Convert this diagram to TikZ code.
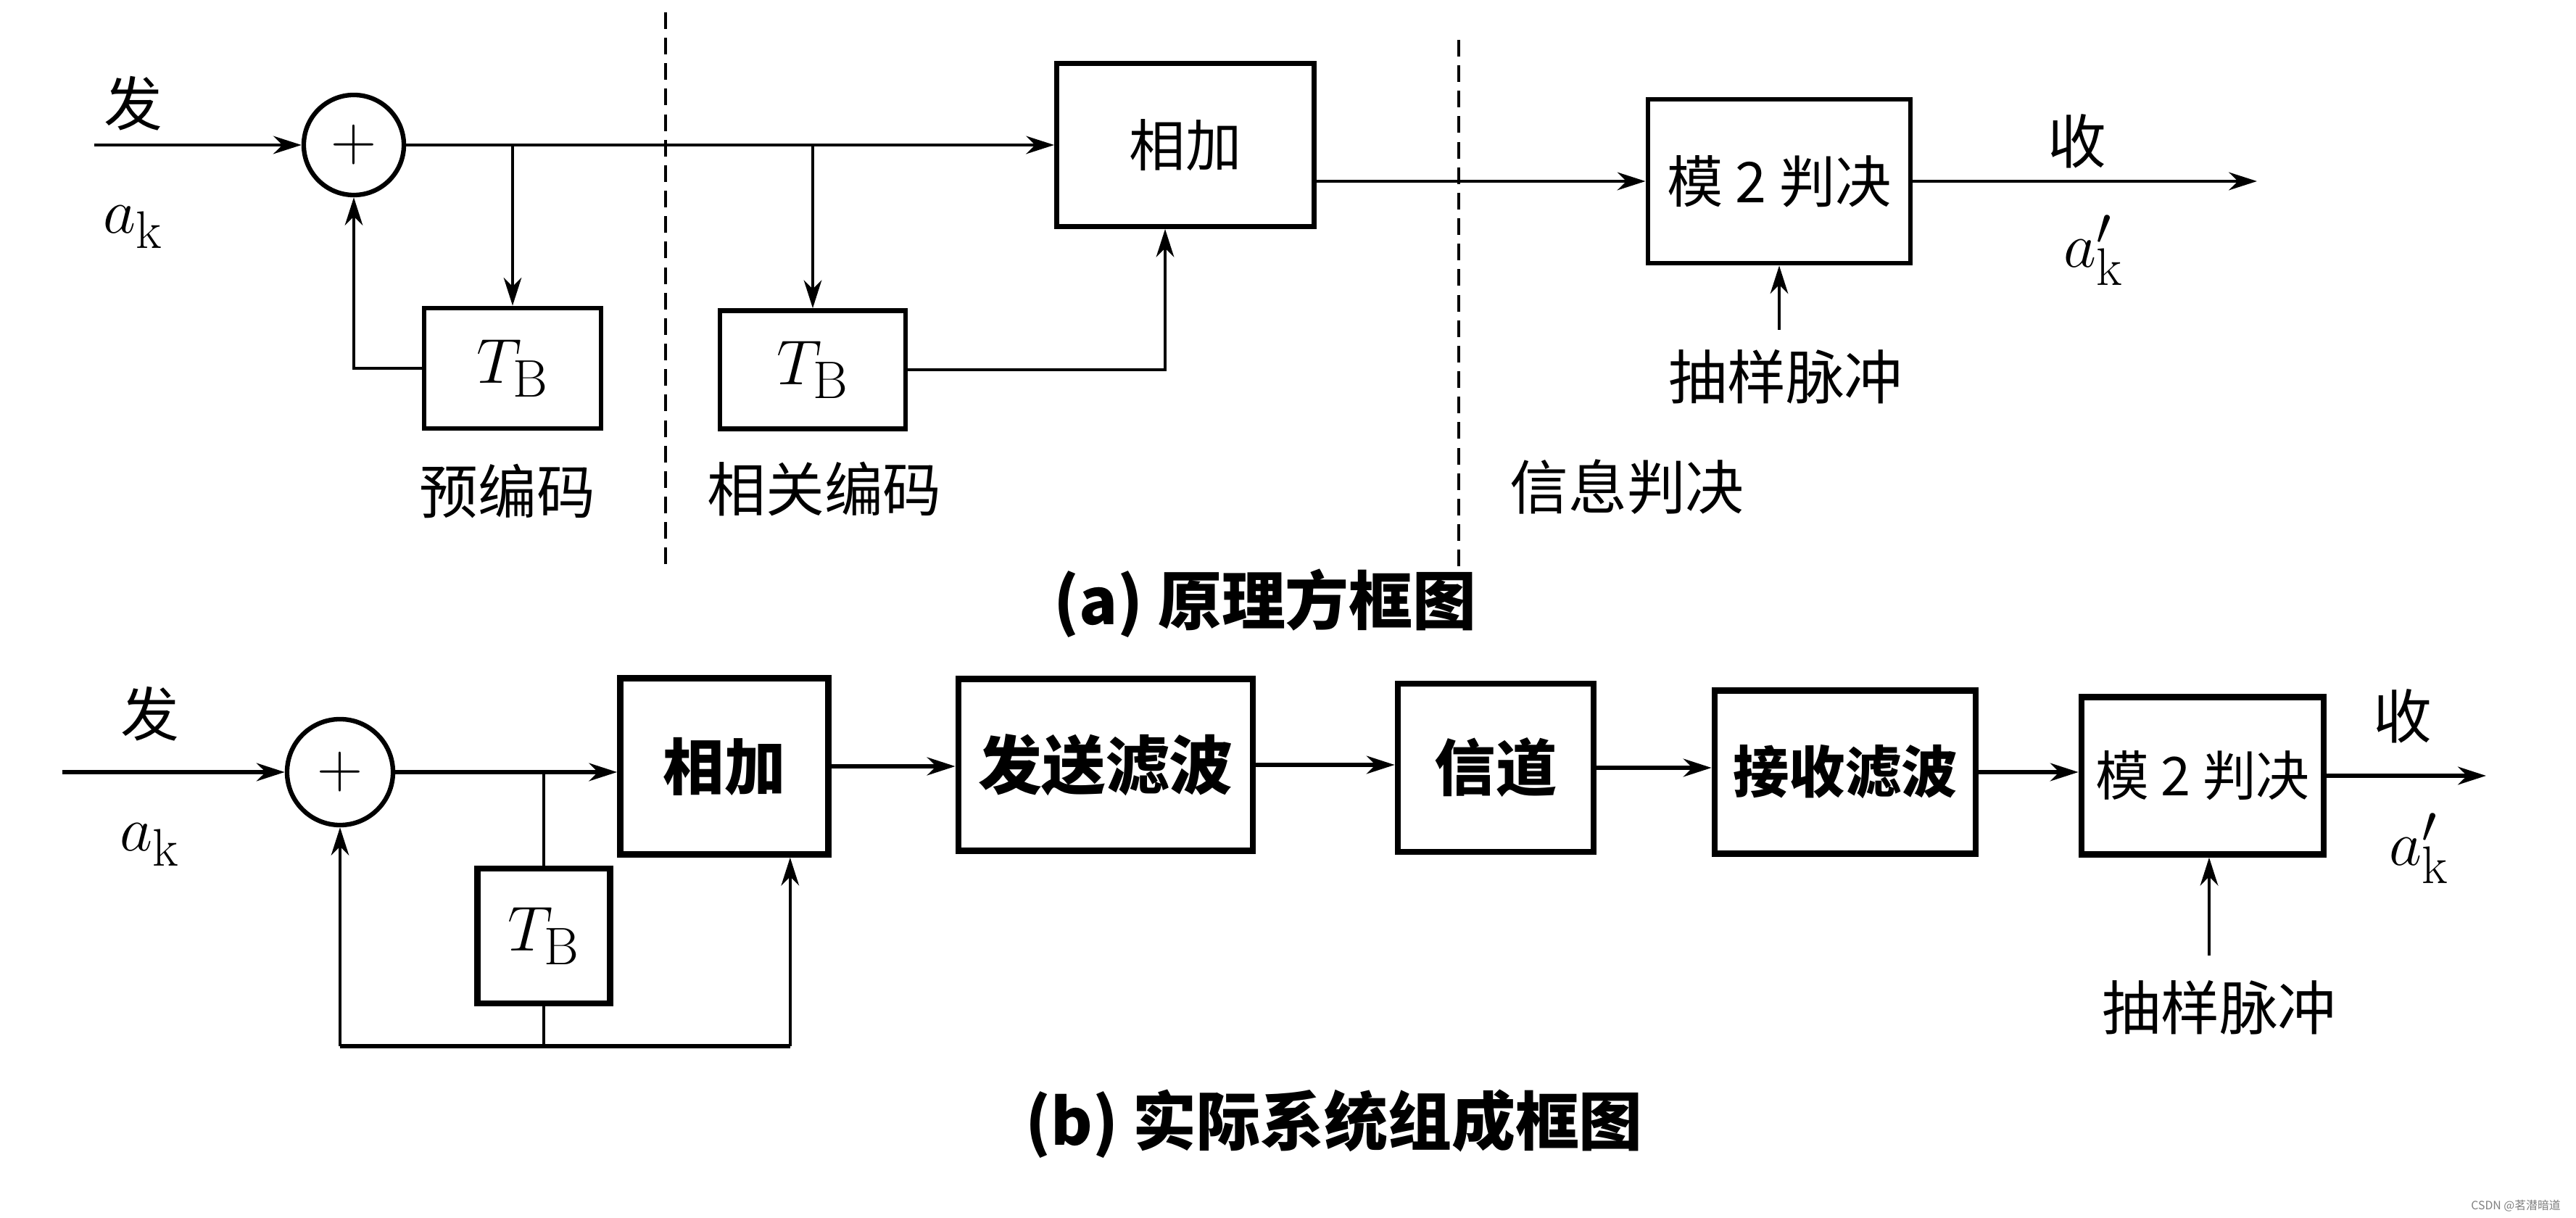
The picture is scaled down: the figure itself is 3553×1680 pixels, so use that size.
\documentclass[tikz,border=0pt]{standalone}
\usepackage{fontspec}
\newfontfamily\cjk{Noto Sans CJK SC}
\usetikzlibrary{arrows.meta,calc}
\tikzset{
  boxa/.style={draw, line width=1.9pt, inner sep=0pt, font=\cjk\fontsize{22}{26}\selectfont},
  boxb/.style={draw, line width=2.4pt, inner sep=0pt, font=\cjk\bfseries\fontsize{24}{28}\selectfont},
  sumnode/.style={circle, draw, line width=1.8pt, inner sep=0pt, font=\fontsize{24.88}{28}\selectfont},
  conn/.style={line width=1.4pt},
  connb/.style={line width=1.8pt},
  thinline/.style={line width=1.1pt},
  myarrowtip/.style={-{Stealth[length=11pt,width=7pt,inset=3.5pt]}},
  arr/.style={conn, myarrowtip},
  arrb/.style={connb, myarrowtip},
  arrthin/.style={thinline, myarrowtip},
  dashline/.style={line width=1.2pt, dash pattern=on 6.5pt off 3.5pt},
  lbl/.style={inner sep=0pt, font=\cjk\fontsize{23}{27}\selectfont},
  mlbl/.style={inner sep=0pt, font=\fontsize{24.88}{28}\selectfont},
  captext/.style={inner sep=0pt, font=\cjk\bfseries\fontsize{25}{30}\selectfont},
}
\begin{document}
\begin{tikzpicture}[x=0.01cm, y=-0.01cm]
\fill[white] (0,0) rectangle (3553,1680);
\useasboundingbox (0,0) rectangle (3553,1680);

% ---------------- (a) ----------------
\node[sumnode, minimum size=1.38cm] (sa) at (488,200) {$+$};
\node[boxa, minimum width=2.44cm, minimum height=1.66cm, font=\fontsize{24.88}{28}\selectfont] (tb1) at (707,508) {$T_{\mathrm{B}}$};
\node[boxa, minimum width=2.56cm, minimum height=1.63cm, font=\fontsize{24.88}{28}\selectfont] (tb2) at (1121,510) {$T_{\mathrm{B}}$};
\node[boxa, minimum width=3.55cm, minimum height=2.25cm] (adda) at (1635,200) {相加};
\node[boxa, minimum width=3.62cm, minimum height=2.26cm] (moda) at (2454,250) {模 2 判决};

\coordinate (ina) at (130,200);
\coordinate (outa) at (3113,250);
\coordinate (smpa) at (2454,455);

\draw[arr] (ina) -- (sa.west);
\draw[arr] (sa.east) -- (adda.west);
\draw[arrthin] (tb1.north |- sa.east) -- (tb1.north);
\draw[arrthin] (tb2.north |- sa.east) -- (tb2.north);
\draw[arrthin] (tb1.west) -| (sa.south);
\draw[arrthin] (tb2.east) -| ($(adda.south)+(-28,0)$);
\draw[arr] (adda.east |- moda.west) -- (moda.west);
\draw[arr] (moda.east) -- (outa);
\draw[arrthin] (smpa) -- (moda.south);

\draw[dashline] (918,17) -- (918,781);
\draw[dashline] (2012,55) -- (2012,786);

\node[lbl] (fa) at (184,143) {发};
\node[mlbl] (aka) at (184,313) {$a_{\mathrm{k}}$};
\node[lbl] (pre) at (700,677) {预编码};
\node[lbl] (cor) at (1137,674) {相关编码};
\node[lbl] (dec) at (2244,672) {信息判决};
\node[lbl] (shoua) at (2865,195) {收};
\node[mlbl] (akpa) at (2888,345) {$a'_{\mathrm{k}}$};
\node[lbl] (smpla) at (2463,520) {抽样脉冲};
\node[captext] (capa) at (1745,832) {(a)\ 原理方框图};

% ---------------- (b) ----------------
\node[sumnode, minimum size=1.46cm] (sb) at (469,1065) {$+$};
\node[boxb, minimum width=1.83cm, minimum height=1.86cm, font=\fontsize{24.88}{28}\selectfont] (tbb) at (750,1291) {$T_{\mathrm{B}}$};
\node[boxb, minimum width=2.87cm, minimum height=2.43cm] (addb) at (999,1057) {相加};
\node[boxb, minimum width=4.06cm, minimum height=2.37cm, font=\cjk\bfseries\fontsize{25}{30}\selectfont] (send) at (1525,1055) {发送滤波};
\node[boxb, minimum width=2.70cm, minimum height=2.32cm] (chan) at (2063,1059) {信道};
\node[boxb, minimum width=3.60cm, minimum height=2.25cm, font=\cjk\bfseries\fontsize{22}{26}\selectfont] (recv) at (2545,1065) {接收滤波};
\node[boxb, minimum width=3.34cm, minimum height=2.17cm, font=\cjk\fontsize{21}{25}\selectfont] (modb) at (3038,1070) {模 2 判决};

\coordinate (inb) at (86,1065);
\coordinate (jb) at (750,1443);
\coordinate (outb) at (3429,1070);
\coordinate (smpb) at (3047,1318);
\coordinate (upb) at ($(addb.south east)+(-57,0)$);

\draw[arrb] (inb) -- (sb.west);
\draw[arrb] (sb.east) -- (sb.east -| addb.west);
\draw[thinline] (tbb.north |- sb.east) -- (tbb.north);
\draw[thinline] (tbb.south) -- (jb);
\draw[connb] (jb) -- (jb -| sb.south);
\draw[arrthin] (jb -| sb.south) -- (sb.south);
\draw[connb] (jb) -- (jb -| upb);
\draw[arrthin] (jb -| upb) -- (upb);
\draw[arrb] (addb.east) -- (addb.east -| send.west);
\draw[arrb] (send.east) -- (send.east -| chan.west);
\draw[arrb] (chan.east) -- (chan.east -| recv.west);
\draw[arrb] (recv.east) -- (recv.east -| modb.west);
\draw[arrb] (modb.east) -- (outb);
\draw[arrthin] (smpb) -- (smpb |- modb.south);

\node[lbl] (fb) at (207,985) {发};
\node[mlbl] (akb) at (207,1165) {$a_{\mathrm{k}}$};
\node[lbl] (shoub) at (3314,988) {收};
\node[mlbl] (akpb) at (3337,1170) {$a'_{\mathrm{k}}$};
\node[lbl] (smplb) at (3061,1390) {抽样脉冲};
\node[captext] (capb) at (1840,1550) {(b)\ 实际系统组成框图};

\node[inner sep=0pt, text=gray, font=\cjk\fontsize{4.5}{5}\selectfont] (wm) at (3470,1663) {CSDN @茗潜暗道};
\end{tikzpicture}
\end{document}
